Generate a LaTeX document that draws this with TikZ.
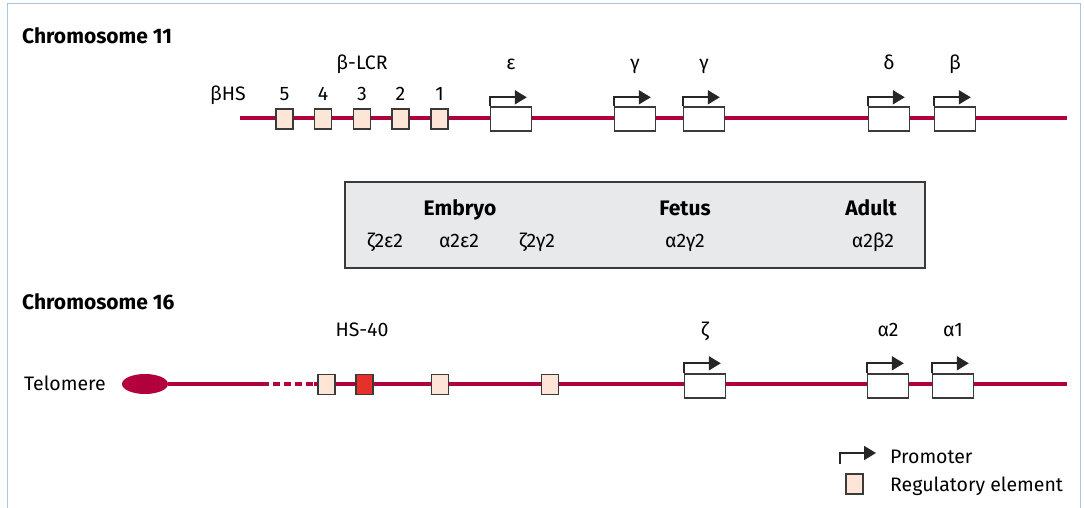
\documentclass[tikz,border=0pt]{standalone}
\usepackage{fontspec}
\setmainfont{Fira Sans}
\usetikzlibrary{arrows.meta,shapes.geometric}
\definecolor{chromred}{HTML}{B2003C}
\definecolor{regfill}{HTML}{FDE6D8}
\definecolor{hsred}{HTML}{E8302A}
\definecolor{panelgray}{HTML}{E7E9EB}
\definecolor{framblue}{HTML}{A9C5E3}
\definecolor{edgegray}{HTML}{3A3A3A}
\begin{document}
\begin{tikzpicture}[x=1pt,y=-1pt,
  font=\fontsize{19.5}{23}\selectfont,
  lbl/.style={inner sep=0, anchor=base},
  lbll/.style={inner sep=0, anchor=base west},
  boldtxt/.style={font=\fontsize{21}{24}\selectfont\bfseries},
  head/.style={inner sep=0, anchor=base west, boldtxt},
  chromline/.style={draw=chromred, line width=4.5pt},
  regbox/.style={draw=edgegray, fill=regfill, line width=1.2pt, minimum width=17pt, minimum height=20pt, inner sep=0},
  hsbox/.style={regbox, fill=hsred},
  genebox/.style={draw=edgegray, fill=white, line width=1.4pt, minimum width=41pt, minimum height=24pt, inner sep=0},
  prom/.style={draw=black!85, line width=1.8pt, -{Triangle[length=12pt,width=14pt]}},
]
\useasboundingbox (0,0) rectangle (1084,508);
\draw[framblue, line width=1pt] (7,508) -- (7,4) -- (1080,4) -- (1080,508);

% ---------- Chromosome 11 ----------
\node[head] (h11) at (22,44) {Chromosome 11};
\coordinate (c11s) at (240,118);
\coordinate (c11e) at (1067,118);
\draw[chromline] (c11s) -- (c11e);

\node[lbl] (lcr) at (362,70) {β-LCR};
\node[lbl] (bhs) at (228,101) {βHS};
\foreach \i/\x in {5/284.5,4/323,3/362,2/400.5,1/439.5}{
  \node[regbox] (hs\i) at (\x,119) {};
  \node[lbl] (n\i) at (\x,101) {\i};
}
\foreach \n/\x/\t in {eps/511/ε, ga/635/γ, gb/704/γ, del/889/δ, bet/955/β}{
  \node[genebox] (\n) at (\x,119) {};
  \node[lbl] (l\n) at (\x,70) {\t};
  \draw[prom] (\n.north west) -- ++(0,-9) -- ++(37,0);
}

% ---------- Developmental panel ----------
\node[draw=edgegray, fill=panelgray, line width=1.2pt, minimum width=580pt, minimum height=86pt, inner sep=0] (panel) at (635,225) {};
\node[lbl, boldtxt] (emb) at (460,215) {Embryo};
\node[lbl, boldtxt] (fet) at (685,215) {Fetus};
\node[lbl, boldtxt] (adu) at (871,215) {Adult};
\node[lbl] (p1) at (385,247) {ζ2ε2};
\node[lbl] (p2) at (459,247) {α2ε2};
\node[lbl] (p3) at (537,247) {ζ2γ2};
\node[lbl] (p4) at (685,247) {α2γ2};
\node[lbl] (p5) at (873,247) {α2β2};

% ---------- Chromosome 16 ----------
\node[head] (h16) at (22,309) {Chromosome 16};
\node[lbl] (hs40) at (362,336) {HS-40};
\node[lbll] (tel) at (24,390) {Telomere};
\node[ellipse, fill=chromred, minimum width=46pt, minimum height=20pt, inner sep=0] (telo) at (145,384) {};
\coordinate (dash1) at (262,384);
\coordinate (dash2) at (314,384);
\coordinate (c16e) at (1067,384);
\draw[chromline] (telo.east) -- (dash1);
\draw[chromline, dash pattern=on 7pt off 4pt] (dash1) -- (dash2);
\draw[chromline] (dash2) -- (c16e);

\node[regbox] (r1) at (326.5,384.5) {};
\node[hsbox] (r2) at (364.5,384.5) {};
\node[regbox] (r3) at (440,384.5) {};
\node[regbox] (r4) at (550,384.5) {};

\foreach \n/\x/\t in {zet/705/ζ, ata/888/α2, atb/953/α1}{
  \node[genebox] (\n) at (\x,386) {};
  \node[lbl] (l\n) at (\x,336) {\t};
  \draw[prom] (\n.north west) -- ++(0,-10) -- ++(37,0);
}

% ---------- Legend ----------
\coordinate (pa) at (840,464);
\draw[prom] (pa) -- ++(0,-11) -- ++(36,0);
\node[lbll] (lp) at (890,463) {Promoter};
\node[regbox] (lr) at (854.5,484) {};
\node[lbll] (lre) at (890,491) {Regulatory element};
\end{tikzpicture}
\end{document}
